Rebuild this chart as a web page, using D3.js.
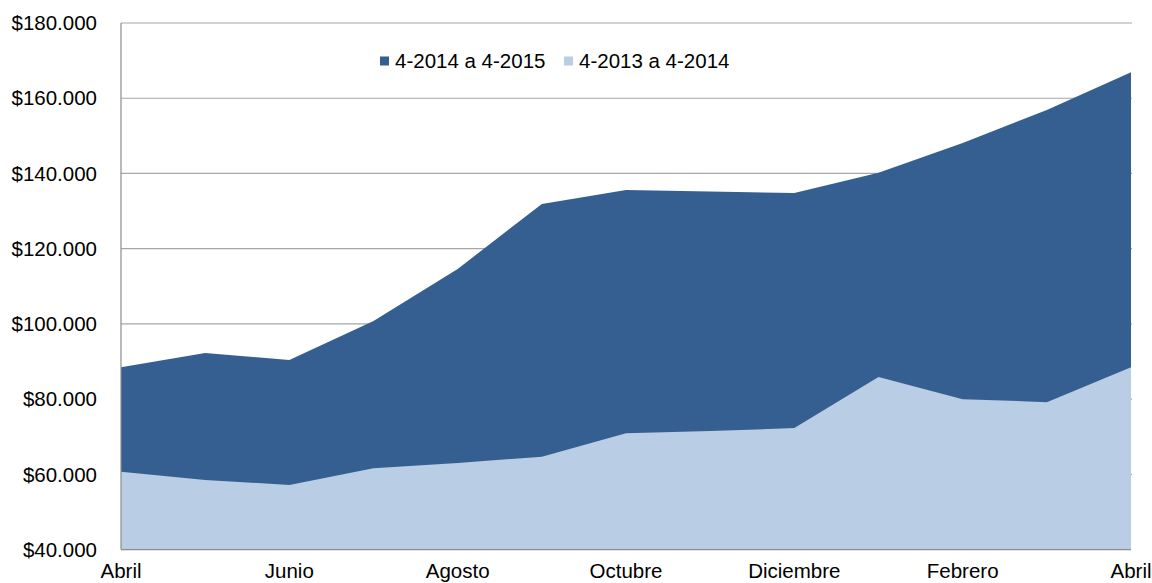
<!DOCTYPE html>
<html>
<head>
<meta charset="utf-8">
<script src="https://cdn.jsdelivr.net/npm/d3@7"></script>
<style>
  body { margin: 0; background: #fff; }
  text { font-family: "Liberation Sans", Arial, sans-serif; fill: #000; }
</style>
</head>
<body>
<svg id="chart" width="1152" height="583"></svg>
<script>
// months, April to April
const months = ['Abril', 'Mayo', 'Junio', 'Julio', 'Agosto', 'Septiembre', 'Octubre',
                'Noviembre', 'Diciembre', 'Enero', 'Febrero', 'Marzo', 'Abril'];
const series2015 = [88500, 92300, 90400, 100800, 114600, 131900, 135600, 135200, 134800, 140200, 148100, 156900, 166900];
const series2014 = [60700, 58500, 57200, 61600, 63000, 64700, 70900, 71500, 72300, 85900, 80000, 79200, 88500];
const seriesNames = ['4-2014 a 4-2015', '4-2013 a 4-2014'];
const yTicks = [40000, 60000, 80000, 100000, 120000, 140000, 160000, 180000];

const colors = ['#365f91', '#b9cde5'];

const svg = d3.select('#chart');
const plotL = 121, plotR = 1131, plotT = 23, plotB = 549.6;

const x = d3.scaleLinear().domain([0, months.length - 1]).range([plotL, plotR]);
const y = d3.scaleLinear().domain([40000, 180000]).range([plotB, plotT]);

// gridlines
svg.append('g')
    .selectAll('line')
    .data(yTicks.slice(1))
    .join('line')
    .attr('x1', plotL)
    .attr('x2', plotR + 1)
    .attr('y1', d => y(d))
    .attr('y2', d => y(d))
    .style('stroke', '#a6a6a6')
    .style('stroke-width', 1.2);

const area = vals => d3.area()
    .x((d, i) => x(i))
    .y0(y(40000))
    .y1(d => y(d))(vals);

svg.append('path').attr('d', area(series2015)).style('fill', colors[0]);
svg.append('path').attr('d', area(series2014)).style('fill', colors[1]);

// axis lines
svg.append('line')
    .attr('x1', plotL).attr('x2', plotL)
    .attr('y1', plotT).attr('y2', plotB)
    .style('stroke', '#8c8c8c').style('stroke-width', 1.2);
svg.append('line')
    .attr('x1', plotL).attr('x2', plotR)
    .attr('y1', plotB).attr('y2', plotB)
    .style('stroke', '#8c8c8c').style('stroke-width', 1.2);

// y labels
const fmt = v => '$' + d3.format(',')(v).replace(/,/g, '.');
svg.append('g')
    .selectAll('text')
    .data(yTicks)
    .join('text')
    .attr('x', 97)
    .attr('y', d => y(d))
    .attr('dy', '0.35em')
    .attr('text-anchor', 'end')
    .style('font-size', '20.5px')
    .text(fmt);

// x labels, every other month
svg.append('g')
    .selectAll('text')
    .data(months.map((m, i) => ({m, i})).filter(d => d.i % 2 === 0))
    .join('text')
    .attr('x', d => x(d.i))
    .attr('y', 578)
    .attr('text-anchor', 'middle')
    .style('font-size', '20.5px')
    .text(d => d.m);

// legend
const legendX = [380, 564];
const legend = svg.append('g')
    .selectAll('g')
    .data(seriesNames)
    .join('g')
    .attr('transform', (d, i) => `translate(${legendX[i]},61)`);
legend.append('rect')
    .attr('x', 0).attr('y', -4.5)
    .attr('width', 9).attr('height', 9)
    .style('fill', (d, i) => colors[i]);
legend.append('text')
    .attr('x', 15)
    .attr('dy', '0.35em')
    .style('font-size', '20.5px')
    .text(d => d);
</script>
</body>
</html>
